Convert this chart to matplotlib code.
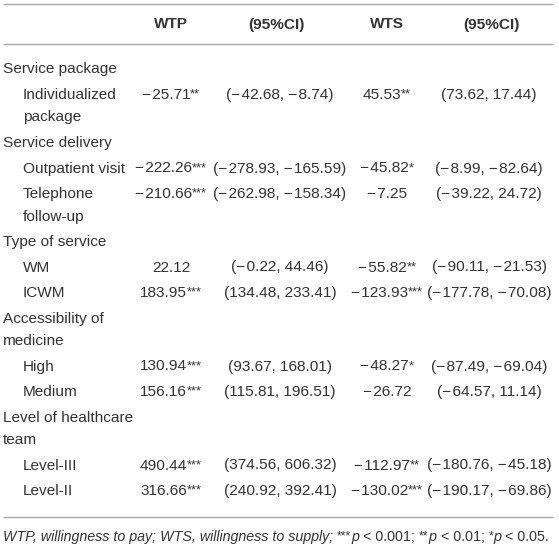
import matplotlib
matplotlib.use("Agg")
import matplotlib.pyplot as plt

# ---- data ----
labels = ["Service package", "Individualized\npackage", "Service delivery",
          "Outpatient visit", "Telephone\nfollow-up", "Type of service",
          "WM", "ICWM", "Accessibility of\nmedicine", "High", "Medium",
          "Level of healthcare\nteam", "Level-III", "Level-II"]
is_group = [True, False, True, False, False, True, False, False, True,
            False, False, True, False, False]
wtp = [None, -25.71, None, -222.26, -210.66, None, 22.12, 183.95, None,
       130.94, 156.16, None, 490.44, 316.66]
wtp_sig = ["", "**", "", "***", "***", "", "", "***", "", "***", "***", "",
           "***", "***"]
wtp_lo = [None, -42.68, None, -278.93, -262.98, None, -0.22, 134.48, None,
          93.67, 115.81, None, 374.56, 240.92]
wtp_hi = [None, -8.74, None, -165.59, -158.34, None, 44.46, 233.41, None,
          168.01, 196.51, None, 606.32, 392.41]
wts = [None, 45.53, None, -45.82, -7.25, None, -55.82, -123.93, None,
       -48.27, -26.72, None, -112.97, -130.02]
wts_sig = ["", "**", "", "*", "", "", "**", "***", "", "*", "", "", "**",
           "***"]
wts_lo = [None, 73.62, None, -8.99, -39.22, None, -90.11, -177.78, None,
          -87.49, -64.57, None, -180.76, -190.17]
wts_hi = [None, 17.44, None, -82.64, 24.72, None, -21.53, -70.08, None,
          -69.04, 11.14, None, -45.18, -69.86]
headers = ["WTP", "(95%CI)", "WTS", "(95%CI)"]
footnote = [("WTP, willingness to pay; WTS, willingness to supply; ", "n"),
            ("***", "s"), ("p", "n"), (" < 0.001; ", "u"),
            ("**", "s"), ("p", "n"), (" < 0.01; ", "u"),
            ("*", "s"), ("p", "n"), (" < 0.05.", "u")]

# ---- layout ----
W, H = 559, 546
FONT = "Liberation Sans"
FS = 11.1
COLOR = "#333333"
LINE = "#a8a8a8"

fig = plt.figure(figsize=(W / 100, H / 100), dpi=100)
ax = fig.add_axes([0, 0, 1, 1])
ax.set_xlim(0, W)
ax.set_ylim(H, 0)
ax.axis("off")
renderer = fig.canvas.get_renderer()


def fmt(v):
    return f"{v:.2f}".replace("-", "\u2212\u200a")


def rich(x, y, segs, ha="left", size=FS, style="normal"):
    arts = []
    for s, kind in segs:
        if not s:
            continue
        if kind == "s":
            t = ax.text(0, y - 1.5, s, fontsize=size * 0.85, family=FONT,
                        color=COLOR, va="baseline", style="normal")
        else:
            st = "normal" if kind == "u" else style
            t = ax.text(0, y, s, fontsize=size, family=FONT, color=COLOR,
                        va="baseline", style=st)
        arts.append(t)
    widths = [a.get_window_extent(renderer).width for a in arts]
    total = sum(widths)
    cx = x - total / 2 if ha == "center" else x
    for a, w in zip(arts, widths):
        a.set_x(cx)
        cx += w


col_x = [171, 280, 387, 489]
head_x = [171, 276, 387, 491]

# rules
for yy in (4, 44, 517):
    ax.plot([3, 553], [yy, yy], color=LINE, lw=1.0, solid_capstyle="butt")

for hx, h in zip(head_x, headers):
    ax.text(hx, 28.5, h, ha="center", va="baseline", fontsize=FS,
            fontweight="bold", family=FONT, color=COLOR)

y = 73.5
step, wrap = 25.5, 22.5
for i, lab in enumerate(labels):
    lx = 3 if is_group[i] else 23
    lines = lab.split("\n")
    for k, ln in enumerate(lines):
        ax.text(lx, y + k * wrap, ln, ha="left", va="baseline", fontsize=FS,
                family=FONT, color=COLOR)
    if wtp[i] is not None:
        rich(col_x[0], y, [(fmt(wtp[i]), "n"), (wtp_sig[i], "s")], ha="center")
        rich(col_x[1], y, [(f"({fmt(wtp_lo[i])}, {fmt(wtp_hi[i])})", "n")],
             ha="center")
        rich(col_x[2], y, [(fmt(wts[i]), "n"), (wts_sig[i], "s")], ha="center")
        rich(col_x[3], y, [(f"({fmt(wts_lo[i])}, {fmt(wts_hi[i])})", "n")],
             ha="center")
    y += step + (len(lines) - 1) * wrap

rich(3, 541, footnote, ha="left", size=10.3, style="italic")

fig.savefig("out.png", dpi=100)
